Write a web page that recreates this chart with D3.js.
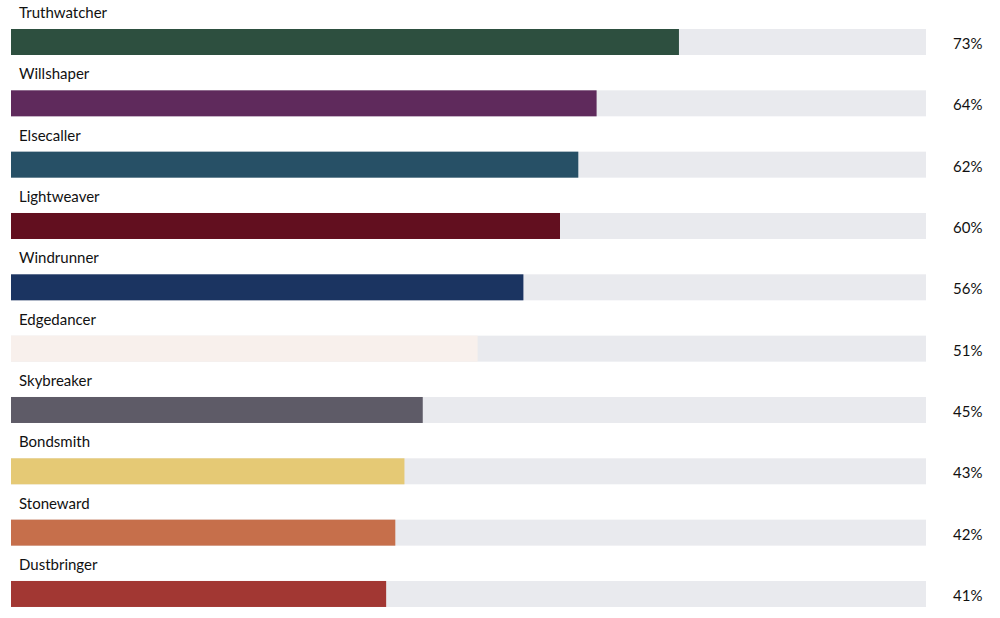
<!DOCTYPE html>
<html><head><meta charset="utf-8">
<script src="https://cdn.jsdelivr.net/npm/d3@7"></script>
<style>body{margin:0;background:#fff}svg{display:block}</style>
</head><body>
<svg id="c" width="1000" height="618"></svg>
<script>
const categories = ["Truthwatcher","Willshaper","Elsecaller","Lightweaver","Windrunner","Edgedancer","Skybreaker","Bondsmith","Stoneward","Dustbringer"];
const values = [73,64,62,60,56,51,45,43,42,41];
const colors = ["#2d4f3f","#5f2a5c","#275066","#620f1f","#1b3461","#f8f0ec","#5e5b67","#e5c975","#c66f4b","#a23733"];

const svg = d3.select("#c");
const x = d3.scaleLinear().domain([0,100]).range([11,926]);
const y = d3.scaleBand().domain(categories).range([12.5,625.8]).paddingInner(0).paddingOuter(0);
const barH = 26;
const font = "Lato, 'Source Sans Pro', sans-serif";

const g = svg.selectAll("g.row").data(categories).join("g").attr("class","row")
  .attr("transform", d => `translate(0,${y(d)})`);

g.append("rect").attr("x", x(0)).attr("y", 16.5).attr("width", x(100)-x(0)).attr("height", barH).attr("fill","#e9eaee");
g.append("rect").attr("x", x(0)).attr("y", 16.5).attr("width", (d,i)=>x(values[i])-x(0)).attr("height", barH).attr("fill",(d,i)=>colors[i]);
g.append("text").attr("x",19).attr("y",5.5).text(d=>d)
  .attr("font-family",font).attr("font-size",15).attr("fill","#111");
g.append("text").attr("x",953).attr("y",36.5).text((d,i)=>values[i]+"%")
  .attr("font-family",font).attr("font-size",15).attr("fill","#111");
</script>
</body></html>
